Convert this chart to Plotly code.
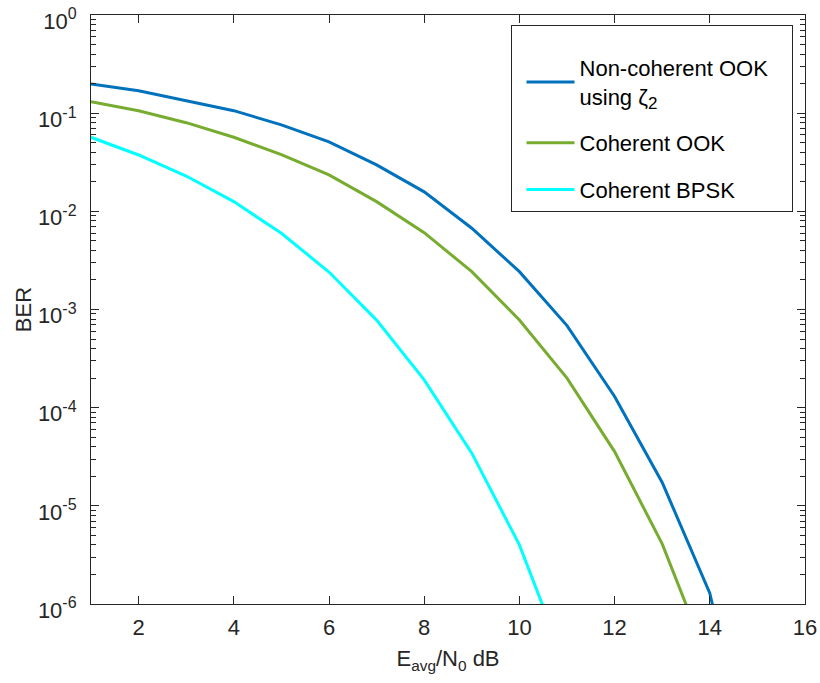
import plotly.graph_objects as go

snr_db = [1, 2, 3, 4, 5, 6, 7, 8, 9, 10, 11, 12, 13, 14, 15]
ber_noncoh_ook = [0.198, 0.169, 0.134, 0.106, 0.076, 0.051, 0.0297, 0.0158, 0.00673,
                  0.00243, 6.85e-4, 1.30e-4, 1.73e-5, 1.29e-6, 1.0e-8]
ber_coh_ook = [0.131, 0.106, 0.080, 0.0568, 0.0378, 0.0235, 0.01256, 0.00607, 0.00243,
               7.83e-4, 2.0e-4, 3.57e-5, 4.1e-6, 2.4e-7, 1.0e-8]
ber_coh_bpsk = [0.0568, 0.0375, 0.0229, 0.01256, 0.00597, 0.00241, 7.8e-4, 1.92e-4,
                3.44e-5, 4.0e-6, 2.2e-7, 1.0e-9, 1.0e-10, 1.0e-11, 1.0e-12]

series_names = ["Non-coherent OOK&nbsp;&nbsp;&nbsp;<br>using ζ<sub><span style='font-size:17px'>2</span></sub>",
                "Coherent OOK", "Coherent BPSK"]
series_colors = ["#0072BD", "#77AC30", "#00FFFF"]

x_ticks = [2, 4, 6, 8, 10, 12, 14, 16]
y_ticks = [1, 0.1, 0.01, 1e-3, 1e-4, 1e-5, 1e-6]
y_exponents = ["0", "-1", "-2", "-3", "-4", "-5", "-6"]
y_tick_text = [f"10<sup><span style='font-size:16px'>{e}</span></sup>" for e in y_exponents]

fig = go.Figure()
for i, (name, ys, col) in enumerate(zip(series_names,
                                        [ber_noncoh_ook, ber_coh_ook, ber_coh_bpsk],
                                        series_colors)):
    fig.add_trace(go.Scatter(x=snr_db, y=ys, mode="lines", name=name,
                             legendgroup=f"g{i}",
                             line=dict(color=col, width=3)))

axis_col = "#262626"
fig.update_layout(
    width=820, height=683,
    margin=dict(l=91, r=15, t=15, b=79),
    paper_bgcolor="white", plot_bgcolor="white",
    font=dict(family="Liberation Sans, Arial, sans-serif", size=22, color=axis_col),
    showlegend=True,
    legend=dict(x=0.9825, y=0.983, xanchor="right", yanchor="top",
                bordercolor=axis_col, borderwidth=1, bgcolor="white",
                font=dict(size=22, color="black"), tracegroupgap=15,
                itemwidth=48, indentation=10,
                title=dict(text=" ", font=dict(size=16))),
    xaxis=dict(range=[1, 16], tickmode="array", tickvals=x_ticks,
               ticks="inside", ticklen=8, tickcolor=axis_col,
               showline=True, linecolor=axis_col, linewidth=1, mirror="ticks",
               showgrid=False, zeroline=False, automargin=False,
               ticklabeloverflow="allow",
               title=dict(text="E<sub>avg</sub>/N<sub>0</sub> dB", font=dict(size=22), standoff=11),
               ticklabelstandoff=4),
    yaxis=dict(type="log", range=[-6, 0], tickmode="array", tickvals=y_ticks,
               ticktext=y_tick_text,
               ticks="inside", ticklen=8, tickcolor=axis_col,
               showline=True, linecolor=axis_col, linewidth=1, mirror="ticks",
               showgrid=False, zeroline=False, automargin=False,
               ticklabeloverflow="allow", ticklabelshift=6,
               minor=dict(dtick="D1", ticks="inside", ticklen=5, tickcolor=axis_col, showgrid=False),
               title=dict(text="BER", font=dict(size=22), standoff=0),
               ticklabelstandoff=9),
)

fig.write_html("out.html", config={"displayModeBar": False},
               post_script="document.body.style.margin='0';")
